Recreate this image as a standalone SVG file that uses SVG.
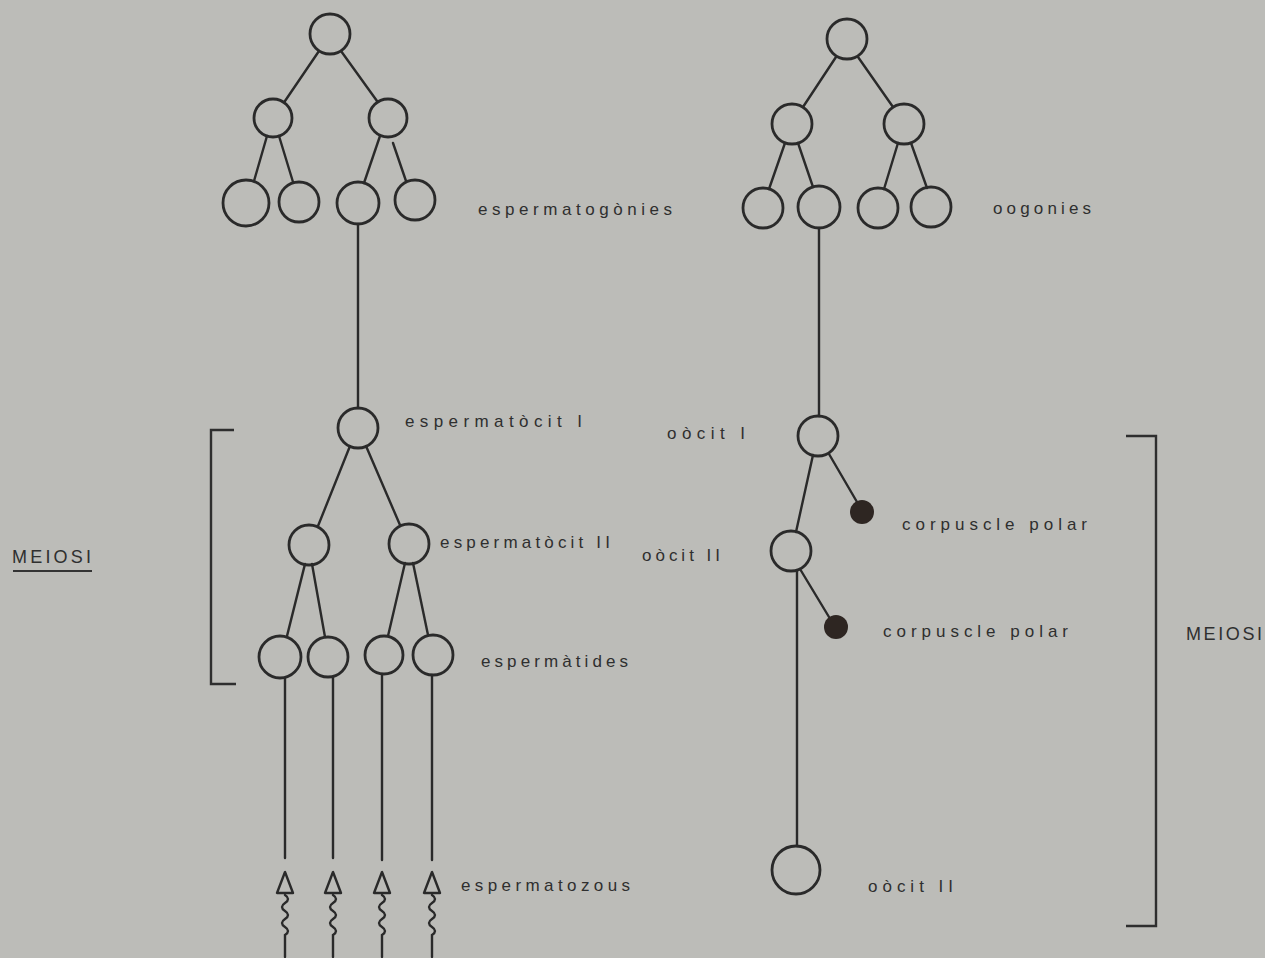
<svg xmlns="http://www.w3.org/2000/svg" xmlns:xlink="http://www.w3.org/1999/xlink" width="1265" height="958" viewBox="0 0 1265 958">
  <style>
    .cell { fill: none; stroke: #2a2a2a; stroke-width: 2.8; }
    .polar { fill: #2e2622; stroke: none; }
    .edge { stroke: #2a2a2a; stroke-width: 2.4; fill: none; stroke-linecap: round; }
    .bracket { stroke: #2e2e2e; stroke-width: 2.4; fill: none; }
    .lbl { font-family: "Liberation Sans", "DejaVu Sans", sans-serif; font-size: 17px; fill: #2f2f2f; }
    .big { font-family: "Liberation Sans", "DejaVu Sans", sans-serif; font-size: 18px; fill: #2f2f2f; }
  </style>
  <defs>
    <g id="sperm">
      <path class="edge" d="M0,872 L-8,893 L8,893 Z" stroke-linejoin="round"/>
      <path class="edge" d="M0,895 q6,4 0,8 q-6,4 0,8 q6,4 0,8 q-6,4 0,8 q6,4 0,8 l0,22"/>
    </g>
  </defs>
  <rect width="1265" height="958" fill="#bcbcb8"/>

  <!-- connectors -->
  <g id="connectors">
    <!-- spermatogonia tree -->
    <line class="edge" x1="319" y1="51" x2="285" y2="101"/>
    <line class="edge" x1="341" y1="51" x2="377" y2="101"/>
    <line class="edge" x1="267" y1="136" x2="254" y2="181"/>
    <line class="edge" x1="279" y1="136" x2="293" y2="182"/>
    <line class="edge" x1="380" y1="136" x2="364" y2="183"/>
    <line class="edge" x1="393" y1="143" x2="406" y2="181"/>
    <line class="edge" x1="358" y1="224" x2="358" y2="408"/>
    <!-- meiosis, male -->
    <line class="edge" x1="350" y1="446" x2="318" y2="526"/>
    <line class="edge" x1="366" y1="446" x2="400" y2="525"/>
    <line class="edge" x1="305" y1="564" x2="287" y2="636"/>
    <line class="edge" x1="312" y1="564" x2="325" y2="637"/>
    <line class="edge" x1="405" y1="563" x2="388" y2="636"/>
    <line class="edge" x1="413" y1="563" x2="428" y2="635"/>
    <line class="edge" x1="285" y1="678" x2="285" y2="858"/>
    <line class="edge" x1="333" y1="677" x2="333" y2="858"/>
    <line class="edge" x1="382" y1="675" x2="382" y2="860"/>
    <line class="edge" x1="432" y1="675" x2="432" y2="860"/>
    <!-- oogonia tree -->
    <line class="edge" x1="836" y1="57" x2="803" y2="107"/>
    <line class="edge" x1="858" y1="57" x2="893" y2="107"/>
    <line class="edge" x1="785" y1="143" x2="769" y2="189"/>
    <line class="edge" x1="798" y1="143" x2="813" y2="187"/>
    <line class="edge" x1="898" y1="143" x2="884" y2="189"/>
    <line class="edge" x1="911" y1="143" x2="927" y2="188"/>
    <line class="edge" x1="819" y1="228" x2="819" y2="416"/>
    <!-- meiosis, female -->
    <line class="edge" x1="829" y1="454" x2="857" y2="502"/>
    <line class="edge" x1="813" y1="455" x2="796" y2="532"/>
    <line class="edge" x1="800" y1="569" x2="829" y2="617"/>
    <line class="edge" x1="797" y1="571" x2="797" y2="846"/>
  </g>

  <!-- spermatogenesis -->
  <g id="espermatogonies">
    <circle class="cell" cx="330" cy="34" r="20"/>
    <circle class="cell" cx="273" cy="118" r="19"/>
    <circle class="cell" cx="388" cy="118" r="19"/>
    <circle class="cell" cx="246" cy="203" r="23"/>
    <circle class="cell" cx="299" cy="202" r="20"/>
    <circle class="cell" cx="358" cy="203" r="21"/>
    <circle class="cell" cx="415" cy="200" r="20"/>
  </g>
  <g id="espermatocit-1">
    <circle class="cell" cx="358" cy="428" r="20"/>
  </g>
  <g id="espermatocit-2">
    <circle class="cell" cx="309" cy="545" r="20"/>
    <circle class="cell" cx="409" cy="544" r="20"/>
  </g>
  <g id="espermatides">
    <circle class="cell" cx="280" cy="657" r="21"/>
    <circle class="cell" cx="328" cy="657" r="20"/>
    <circle class="cell" cx="384" cy="655" r="19"/>
    <circle class="cell" cx="433" cy="655" r="20"/>
  </g>
  <g id="espermatozous">
    <use xlink:href="#sperm" x="285"/>
    <use xlink:href="#sperm" x="333"/>
    <use xlink:href="#sperm" x="382"/>
    <use xlink:href="#sperm" x="432"/>
  </g>

  <!-- oogenesis -->
  <g id="oogonies">
    <circle class="cell" cx="847" cy="39" r="20"/>
    <circle class="cell" cx="792" cy="124" r="20"/>
    <circle class="cell" cx="904" cy="124" r="20"/>
    <circle class="cell" cx="763" cy="208" r="20"/>
    <circle class="cell" cx="819" cy="207" r="21"/>
    <circle class="cell" cx="878" cy="208" r="20"/>
    <circle class="cell" cx="931" cy="207" r="20"/>
  </g>
  <g id="oocit-1">
    <circle class="cell" cx="818" cy="436" r="20"/>
  </g>
  <g id="corpuscle-polar-1">
    <circle class="polar" cx="862" cy="512" r="12"/>
  </g>
  <g id="oocit-2">
    <circle class="cell" cx="791" cy="551" r="20"/>
  </g>
  <g id="corpuscle-polar-2">
    <circle class="polar" cx="836" cy="627" r="12"/>
  </g>
  <g id="oocit-2-final">
    <circle class="cell" cx="796" cy="870" r="24"/>
  </g>

  <!-- meiosis brackets -->
  <g id="bracket-left">
    <path class="bracket" d="M234,430 H211 V684 H236"/>
    <text class="big" x="12" y="563" textLength="79" lengthAdjust="spacing">MEIOSI</text>
    <line x1="13" y1="571" x2="92" y2="571" stroke="#333" stroke-width="2"/>
  </g>
  <g id="bracket-right">
    <path class="bracket" d="M1126,436 H1156 V926 H1126"/>
    <text class="big" x="1186" y="640" textLength="76" lengthAdjust="spacing">MEIOSI</text>
  </g>

  <!-- labels -->
  <g id="labels">
    <text class="lbl" x="478" y="215" textLength="194" lengthAdjust="spacing">espermatogònies</text>
    <text class="lbl" x="993" y="214" textLength="98" lengthAdjust="spacing">oogonies</text>
    <text class="lbl" x="405" y="427" textLength="177" lengthAdjust="spacing">espermatòcit  I</text>
    <text class="lbl" x="667" y="439" textLength="78" lengthAdjust="spacing">oòcit  I</text>
    <text class="lbl" x="440" y="548" textLength="170" lengthAdjust="spacing">espermatòcit II</text>
    <text class="lbl" x="642" y="561" textLength="78" lengthAdjust="spacing">oòcit II</text>
    <text class="lbl" x="902" y="530" textLength="185" lengthAdjust="spacing">corpuscle polar</text>
    <text class="lbl" x="883" y="637" textLength="185" lengthAdjust="spacing">corpuscle  polar</text>
    <text class="lbl" x="481" y="667" textLength="147" lengthAdjust="spacing">espermàtides</text>
    <text class="lbl" x="461" y="891" textLength="169" lengthAdjust="spacing">espermatozous</text>
    <text class="lbl" x="868" y="892" textLength="85" lengthAdjust="spacing">oòcit  II</text>
  </g>
</svg>
